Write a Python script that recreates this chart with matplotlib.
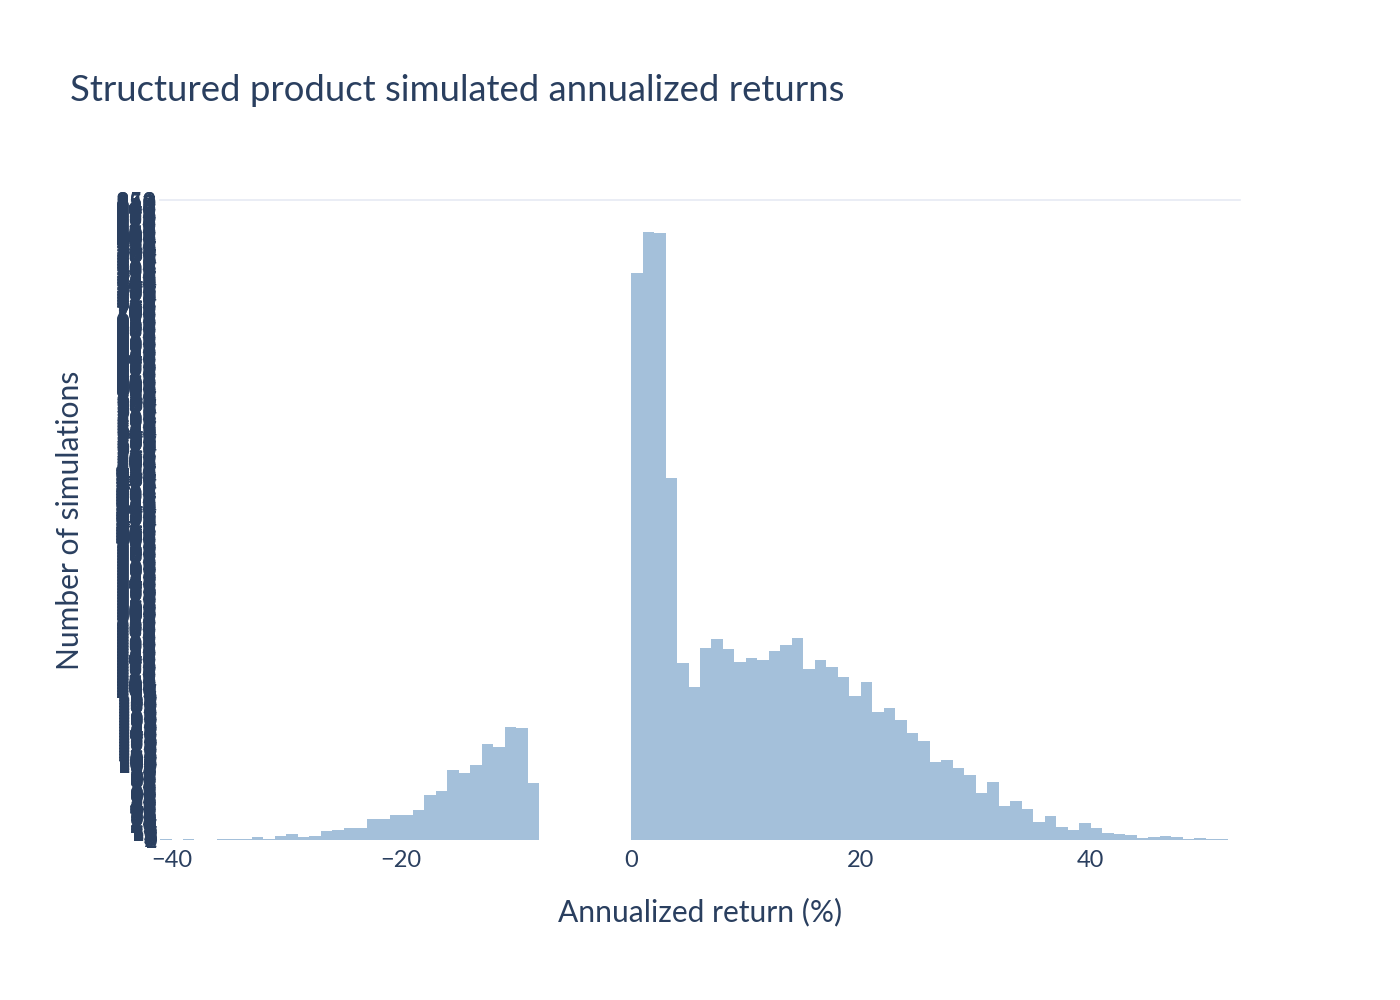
import numpy as np
import matplotlib
matplotlib.use("Agg")
import matplotlib.pyplot as plt
from matplotlib.ticker import MultipleLocator

# histogram of simulated annualized returns, 1% bins
NEG_START = -41
NEG_COUNTS = [1, 0, 1, 0, 0, 1, 1, 1, 4, 1, 5, 8, 4, 5, 12, 13, 16, 16, 28, 28,
              33, 33, 40, 60, 65, 93, 89, 100, 128, 124, 151, 149, 76]
POS_START = 0
POS_COUNTS = [756, 811, 809, 483, 236, 204, 256, 268, 255, 237, 243, 240, 252, 260,
              269, 228, 240, 231, 217, 192, 211, 171, 176, 160, 143, 132, 104, 107,
              96, 87, 63, 77, 45, 52, 41, 24, 32, 17, 13, 23, 16, 9, 8, 7, 3, 4,
              5, 4, 1, 3, 1, 1]
X_TICKS = [-40, -20, 0, 20, 40]
X_RANGE = (-41, 53)

TITLE = "Structured product simulated annualized returns"
X_LABEL = "Annualized return (%)"
Y_LABEL = "Number of simulations"

TEXT = "#2a3f5f"
BAR = "#a4c0da"
GRID = "#e6eaf4"

plt.rcParams["font.family"] = ["Lato", "DejaVu Sans"]

lefts = np.concatenate([np.arange(len(NEG_COUNTS)) + NEG_START,
                        np.arange(len(POS_COUNTS)) + POS_START])
counts = np.array(NEG_COUNTS + POS_COUNTS)

fig = plt.figure(figsize=(14, 10), dpi=100)
ax = fig.add_axes([0.1143, 0.16, 0.7714, 0.64])

ax.bar(lefts, counts, width=1.0, align="edge", color=BAR, linewidth=0)

ax.set_xlim(*X_RANGE)
ax.set_ylim(0, counts.max() * 1.052)
ax.set_xticks(X_TICKS)
# one tick per simulation count -> labels pile up, as in the original
ax.yaxis.set_major_locator(MultipleLocator(1))
ax.tick_params(axis="x", length=0, pad=7, labelsize=17, labelcolor=TEXT)
ax.tick_params(axis="y", length=0, pad=2, labelsize=17, labelcolor=TEXT)

for side in ["left", "right", "bottom"]:
    ax.spines[side].set_visible(False)
ax.spines["top"].set_color(GRID)
ax.spines["top"].set_linewidth(1.2)

fig.text(0.05, 0.899, TITLE, fontsize=26.3, color=TEXT, ha="left", va="baseline")
fig.text(0.5, 0.088, X_LABEL, fontsize=21.6, color=TEXT, ha="center", va="center")
fig.text(0.05, 0.48, Y_LABEL, fontsize=21.6, color=TEXT, ha="center", va="center",
         rotation=90)

fig.savefig("out.png", dpi=100)
